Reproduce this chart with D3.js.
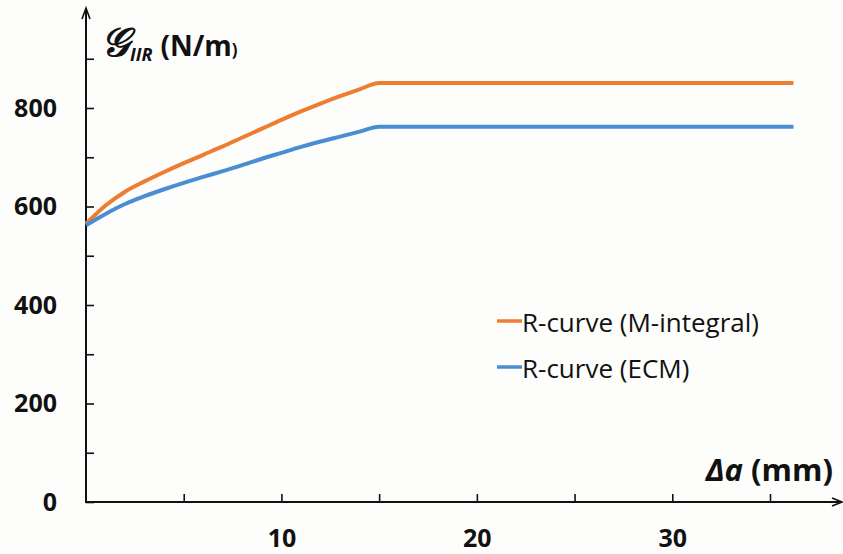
<!DOCTYPE html>
<html>
<head>
<meta charset="utf-8">
<script src="https://cdn.jsdelivr.net/npm/d3@7"></script>
<style>
  html, body { margin: 0; padding: 0; background: #fdfdfb; }
  svg { display: block; }
  text { font-family: "Open Sans", "DejaVu Sans", sans-serif; fill: #111; }
</style>
</head>
<body>
<svg id="chart" width="843" height="554"></svg>
<script>
// Crack extension Δa (mm)
const crackExt = [0, 1, 2, 3, 4, 5, 6, 7, 8, 9, 10, 11, 12, 13, 14, 15, 36.2];
// Mode II fracture resistance G_IIR (N/m)
const rCurveMIntegral = [565, 602, 630, 651, 670, 688, 705, 722, 740, 758, 776, 793, 809, 824, 838, 851, 851];
const rCurveECM = [562, 585, 605, 621, 635, 648, 660, 672, 684, 697, 709, 721, 732, 742, 752, 762, 762];

const seriesNames = ["R-curve (M-integral)", "R-curve (ECM)"];
const seriesColors = ["#ED7D31", "#4A8DD3"];

const xTicks = [5, 10, 15, 20, 25, 30, 35];
const xLabelled = [10, 20, 30];
const yTicks = [0, 100, 200, 300, 400, 500, 600, 700, 800, 900];
const yLabelled = [0, 200, 400, 600, 800];

const svg = d3.select("#chart");

const x = d3.scaleLinear().domain([0, 35]).range([86, 770]);
const y = d3.scaleLinear().domain([0, 800]).range([502, 108]);

// axes with inward ticks
const xAxis = d3.axisBottom(x)
  .tickValues(xTicks)
  .tickSizeInner(-8).tickSizeOuter(0)
  .tickPadding(27)
  .tickFormat(d => xLabelled.includes(d) ? d : "");
const yAxis = d3.axisLeft(y)
  .tickValues(yTicks)
  .tickSizeInner(-8).tickSizeOuter(0)
  .tickPadding(29)
  .tickFormat(d => yLabelled.includes(d) ? d : "");

const gx = svg.append("g").attr("transform", `translate(0,${y(0)})`).call(xAxis);
const gy = svg.append("g").attr("transform", `translate(${x(0)},0)`).call(yAxis);
[gx, gy].forEach(g => {
  g.select(".domain").remove();
  g.selectAll(".tick line").attr("stroke", "#111").attr("stroke-width", 1.6);
  g.selectAll(".tick text")
    .style("font-family", "'Open Sans', sans-serif")
    .style("font-size", "25px").style("font-weight", 700).attr("fill", "#111");
});

// axis lines with arrowheads
const x0 = x(0), y0 = y(0);
svg.append("path")
  .attr("d", `M${x0},${y0}H841`)
  .attr("stroke", "#111").attr("stroke-width", 2).attr("fill", "none");
svg.append("path")
  .attr("d", `M832,${y0 - 4}L842,${y0}L832,${y0 + 4}`)
  .attr("stroke", "#111").attr("stroke-width", 1.6).attr("fill", "none");
svg.append("path")
  .attr("d", `M${x0},${y0 + 1}V9`)
  .attr("stroke", "#111").attr("stroke-width", 2).attr("fill", "none");
svg.append("path")
  .attr("d", `M${x0 - 4},19L${x0},8L${x0 + 4},19`)
  .attr("stroke", "#111").attr("stroke-width", 1.6).attr("fill", "none");

// R-curves
const line = d3.line()
  .x((d, i) => x(crackExt[i]))
  .y(d => y(d))
  .curve(d3.curveMonotoneX);

[rCurveMIntegral, rCurveECM].forEach((vals, k) => {
  svg.append("path")
    .datum(vals)
    .attr("d", line)
    .attr("fill", "none")
    .attr("stroke", seriesColors[k])
    .attr("stroke-width", 4)
    .attr("stroke-linejoin", "round");
});

// legend
const legend = svg.append("g");
seriesNames.forEach((name, k) => {
  const ly = 321 + k * 46;
  legend.append("line")
    .attr("x1", 497).attr("x2", 522).attr("y1", ly).attr("y2", ly)
    .attr("stroke", seriesColors[k]).attr("stroke-width", 3.5);
  legend.append("text")
    .attr("x", 522).attr("y", ly + 11)
    .style("font-size", "26px")
    .text(name);
});

// axis titles
const yTitle = svg.append("text").attr("x", 101).attr("y", 56)
  .style("font-weight", 700).style("font-size", "28px");
yTitle.append("tspan").style("font-style", "italic").style("font-family", "'DejaVu Serif', serif")
  .style("font-weight", 400).style("font-size", "40px")
  .attr("stroke", "#111").attr("stroke-width", 1.2).text("𝒢");
yTitle.append("tspan").attr("dy", 5).attr("dx", 1).style("font-style", "italic").style("font-size", "18px").text("IIR");
yTitle.append("tspan").attr("dy", -5).attr("dx", 8).text("(N/m");
yTitle.append("tspan").style("font-size", "17px").text(")");

const xTitle = svg.append("text").attr("x", 833).attr("y", 481)
  .attr("text-anchor", "end")
  .style("font-weight", 700).style("font-size", "31px");
xTitle.append("tspan").style("font-style", "italic").text("Δa");
xTitle.append("tspan").text(" (mm)");
</script>
</body>
</html>
